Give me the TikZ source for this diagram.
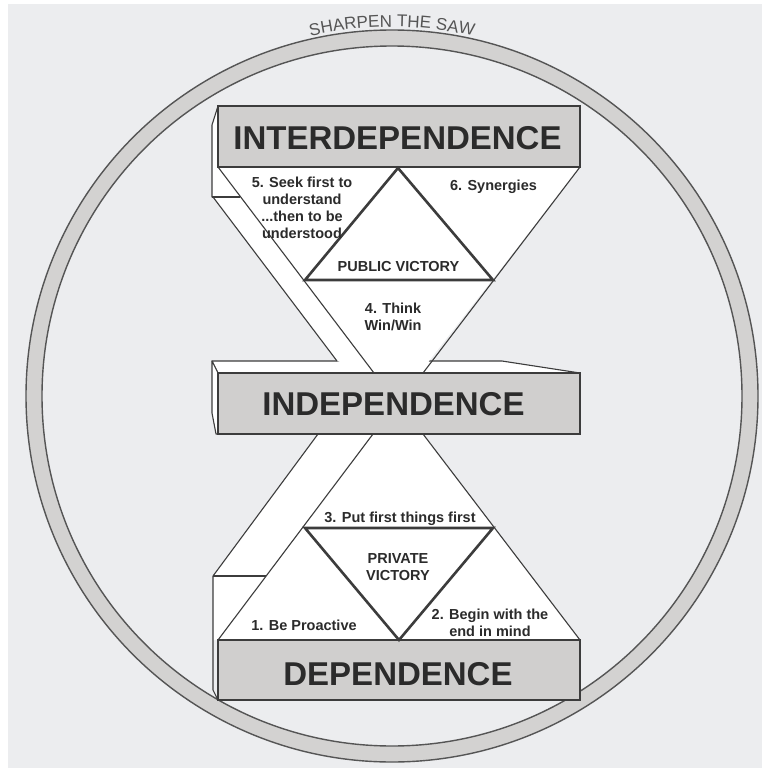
\documentclass[tikz,border=0pt]{standalone}
\usepackage{fontspec}
\setmainfont{Liberation Sans}
\usetikzlibrary{decorations.text}
\definecolor{bggray}{HTML}{ECEDEF}
\definecolor{ringgray}{HTML}{D3D2D1}
\definecolor{boxgray}{HTML}{D0CFCE}
\definecolor{linegray}{HTML}{3C3C3C}
\definecolor{txtgray}{HTML}{2B2B2B}
\definecolor{sawgray}{HTML}{555555}
\newcommand\sawfont{\fontsize{17}{20}\selectfont}
\tikzset{
  thinline/.style={draw=linegray, line width=1.1pt, line join=round},
  frontbox/.style={fill=boxgray, draw=linegray, line width=1.8pt},
  sideface/.style={fill=white, draw=linegray, line width=1.1pt, line join=round},
  victory/.style={draw=linegray, line width=2.6pt, line join=miter},
  bigtxt/.style={font=\bfseries\fontsize{33}{36}\selectfont, text=txtgray, inner sep=0pt},
  smalltxt/.style={font=\bfseries\fontsize{14.5}{17}\selectfont, text=txtgray, inner sep=0pt, align=center},
}
\begin{document}
\begin{tikzpicture}[x=1pt,y=-1pt]
\useasboundingbox (0,0) rectangle (762,768);
\fill[white] (0,0) rectangle (762,768);
\fill[bggray] (8,4) rectangle (762,768);
% ring
\fill[ringgray, even odd rule] (392,396) circle[radius=366] (392,396) circle[radius=350];
\draw[sawgray, line width=1.4pt] (392,396) circle[radius=366];
\draw[sawgray, line width=1.4pt] (392,396) circle[radius=350];
\path[decorate, decoration={text along path, text align=center,
  text={|\sawfont\color{sawgray}|SHARPEN THE SAW}}]
  (392,396) ++(-103:369) arc[start angle=-103, end angle=-77, radius=369];
% left face of INTERDEPENDENCE
\path[sideface] (212,125) -- (218,106) -- (218,167) -- (240,197) -- (212,197) -- cycle;
% INDEPENDENCE top and left faces
\path[sideface] (212,361) -- (502,361) -- (580,373) -- (218,373) -- cycle;
\path[sideface] (212,361) -- (218,373) -- (218,434) -- (216,434) -- (212,413) -- cycle;
% upper hourglass half with ribbon
\fill[white] (218,167) -- (580,167) -- (429,361) -- (423,373) -- (374,373) -- (337,361) -- (213,197) -- cycle;
\coordinate (u1a) at (213,197); \coordinate (u1b) at (337,361);
\coordinate (u2a) at (218,167); \coordinate (u2b) at (374,373);
\coordinate (u3a) at (580,167); \coordinate (u3b) at (423,373);
\coordinate (uh) at (240,197); \coordinate (uv) at (212,197);
\draw[thinline] (u1a) -- (u1b);
\draw[thinline] (u2a) -- (u2b);
\draw[thinline] (u3a) -- (u3b);
\draw[thinline] (uv) -- (uh);
% lower hourglass half with ribbon
\fill[white] (318,434) -- (423,434) -- (580,640) -- (213,640) -- (213,576) -- cycle;
\coordinate (l1a) at (318,434); \coordinate (l1b) at (213,576);
\coordinate (l2a) at (373,434); \coordinate (l2b) at (218,640);
\coordinate (l3a) at (423,434); \coordinate (l3b) at (580,640);
\coordinate (lh) at (266,576); \coordinate (lv) at (213,690); \coordinate (lw) at (218,700);
\draw[thinline] (l1a) -- (l1b);
\draw[thinline] (l2a) -- (l2b);
\draw[thinline] (l3a) -- (l3b);
\draw[thinline] (l1b) -- (lh);
\draw[thinline] (l1b) -- (lv) -- (lw);
% front faces
\node[frontbox, minimum width=362pt, minimum height=61pt, inner sep=0pt] (interbox) at (399,136.5) {};
\node[frontbox, minimum width=362pt, minimum height=61pt, inner sep=0pt] (indbox) at (399,403.5) {};
\node[frontbox, minimum width=362pt, minimum height=60pt, inner sep=0pt] (depbox) at (399,670) {};
% victory triangles
\coordinate (pa) at (398,168); \coordinate (pl) at (305,280); \coordinate (pr) at (493,280);
\draw[victory] (pa) -- (pl) -- (pr) -- cycle;
\coordinate (qa) at (399,640); \coordinate (ql) at (305,528); \coordinate (qr) at (493,528);
\draw[victory] (qa) -- (ql) -- (qr) -- cycle;
% texts
\node[bigtxt] (interlbl) at (397.5,138.5) {INTERDEPENDENCE};
\node[bigtxt] (indlbl) at (393.5,404.5) {INDEPENDENCE};
\node[bigtxt] (deplbl) at (398,674) {DEPENDENCE};
\node[smalltxt] (t5) at (302,208) {5. Seek first to\\understand\\...then to be\\understood};
\node[smalltxt] (t6) at (493.5,187) {6. Synergies};
\node[smalltxt] (tpub) at (398.5,267) {PUBLIC VICTORY};
\node[smalltxt] (t4) at (393,317) {4. Think\\Win/Win};
\node[smalltxt] (t3) at (400,519) {3. Put first things first};
\node[smalltxt] (tpriv) at (398,567) {PRIVATE\\VICTORY};
\node[smalltxt] (t1) at (304,625) {1. Be Proactive};
\node[smalltxt] (t2) at (490,623) {2. Begin with the\\end in mind};
\end{tikzpicture}
\end{document}
